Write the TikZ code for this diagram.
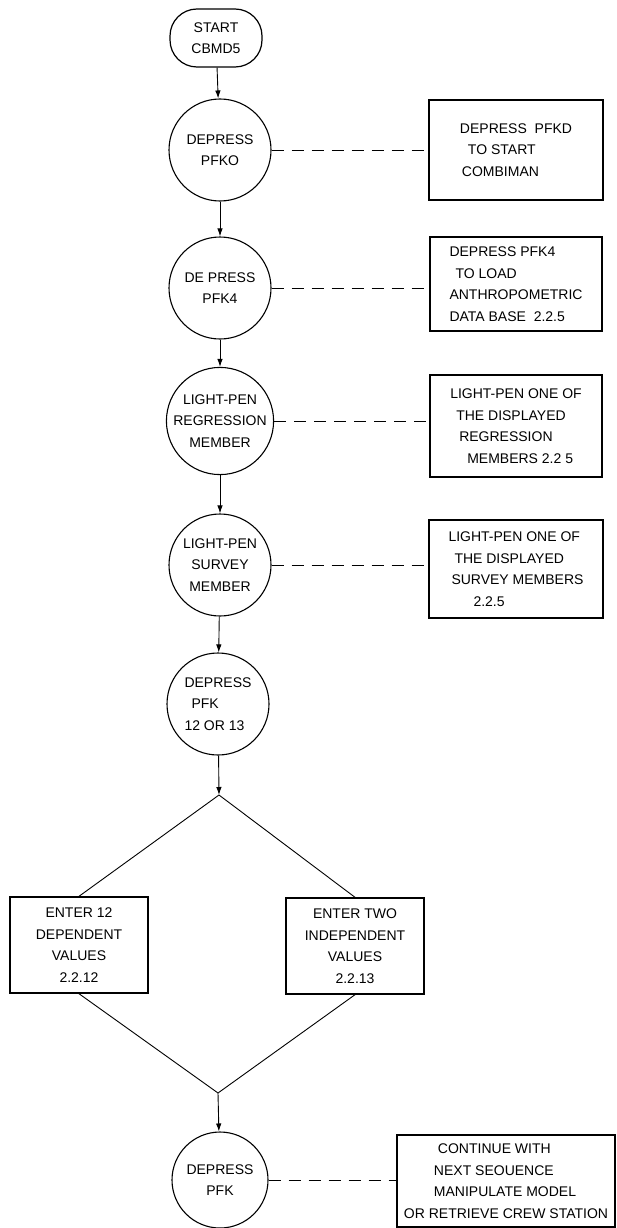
\documentclass[tikz,border=0pt]{standalone}
\usepackage{fontspec}
\setmainfont{Liberation Sans}
\usetikzlibrary{arrows.meta}

\tikzset{
    flowtext/.style={font=\fontsize{14}{21.5}\selectfont},
    startbox/.style={flowtext, draw, rectangle, rounded corners=27pt, line width=1.2pt,
        inner sep=0pt, minimum width=92pt, minimum height=58pt, align=center},
    stepcircle/.style={flowtext, draw, circle, line width=1.1pt, inner sep=0pt,
        minimum size=102pt, align=center},
    notebox/.style={flowtext, draw, rectangle, line width=1.4pt, inner sep=0pt, align=left},
    entrybox/.style={flowtext, draw, rectangle, line width=1.4pt, inner sep=0pt,
        minimum width=138pt, minimum height=96pt, align=center},
    flowarrow/.style={line width=0.9pt, -{Latex[length=8pt,width=5.5pt]}},
    noteline/.style={line width=0.9pt, dash pattern=on 12pt off 8pt},
}

\begin{document}
\begin{tikzpicture}[x=1pt, y=-1pt]
    \useasboundingbox (0,0) rectangle (617,1228);

    % start
    \node [startbox] (start) at (216,38) {START\\CBMD5};

    % steps down the middle
    \node [stepcircle] (pfko) at (220,150) {DEPRESS\\PFKO};
    \node [stepcircle] (pfkfour) at (220,288) {DE PRESS\\PFK4};
    \node [stepcircle] (regr) at (220,421) {LIGHT-PEN\\REGRESSION\\MEMBER};
    \node [stepcircle] (survey) at (220,565) {LIGHT-PEN\\SURVEY\\MEMBER};
    \node [stepcircle, align=left] (pfkchoice) at (218,704) {DEPRESS\\\hspace{7pt}PFK\\12 OR 13};
    \node [stepcircle, minimum size=96pt] (pfklast) at (220,1180) {DEPRESS\\PFK};

    % notes on the right
    \node [notebox, minimum width=174pt, minimum height=100pt] (note1) at (516,150)
        {DEPRESS\ \ PFKD\\\hspace{8pt}TO START\\\hspace{2pt}COMBIMAN};
    \node [notebox, minimum width=172pt, minimum height=94pt] (note2) at (516,284)
        {DEPRESS PFK4\\\hspace{6pt}TO LOAD\\ANTHROPOMETRIC\\DATA BASE\ \ 2.2.5};
    \node [notebox, minimum width=172pt, minimum height=102pt] (note3) at (516,426)
        {LIGHT-PEN ONE OF\\\hspace{6pt}THE DISPLAYED\\\hspace{9pt}REGRESSION\\\hspace{17pt}MEMBERS 2.2 5};
    \node [notebox, minimum width=174pt, minimum height=98pt] (note4) at (516,569)
        {LIGHT-PEN ONE OF\\\hspace{6pt}THE DISPLAYED\\\hspace{3pt}SURVEY MEMBERS\\\hspace{25pt}2.2.5};
    \node [notebox, minimum width=218pt, minimum height=92pt] (note5) at (506,1181)
        {\hspace{34pt}CONTINUE WITH\\\hspace{30pt}NEXT SEOUENCE\\\hspace{30pt}MANIPULATE MODEL\\OR RETRIEVE CREW STATION};

    % the two branches
    \coordinate (split) at (219,795);
    \coordinate (join) at (218,1093);
    \node [entrybox] (dep) at (79,945) {ENTER 12\\DEPENDENT\\VALUES\\2.2.12};
    \node [entrybox] (indep) at (355,946) {ENTER TWO\\INDEPENDENT\\VALUES\\2.2.13};

    % arrows
    \draw [flowarrow] (start) -- (pfko);
    \draw [flowarrow] (pfko) -- (pfkfour);
    \draw [flowarrow] (pfkfour) -- (regr);
    \draw [flowarrow] (regr) -- (survey);
    \draw [flowarrow] (survey) -- (pfkchoice);
    \draw [flowarrow] (pfkchoice) -- (split);
    \draw [flowarrow] (join) -- (pfklast);

    \draw [line width=0.9pt] (split) -- (dep.north) (split) -- (indep.north);
    \draw [line width=0.9pt] (dep.south) -- (join) (indep.south) -- (join);

    % dashed links to the notes
    \draw [noteline] (pfko.east) -- (pfko.east -| note1.west);
    \draw [noteline] (pfkfour.east) -- (pfkfour.east -| note2.west);
    \draw [noteline] (regr.east) -- (regr.east -| note3.west);
    \draw [noteline] (survey.east) -- (survey.east -| note4.west);
    \draw [noteline] (pfklast.east) -- (pfklast.east -| note5.west);

\end{tikzpicture}
\end{document}
